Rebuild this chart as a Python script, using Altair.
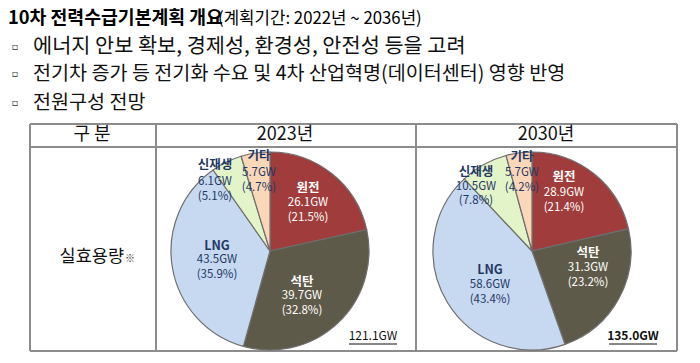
import altair as alt
import pandas as pd

# ---------------- data ----------------
categories = ["원전", "석탄", "LNG", "신재생", "기타"]
gw_2023 = [26.1, 39.7, 43.5, 6.1, 5.7]
pct_2023 = [21.5, 32.8, 35.9, 5.1, 4.7]
gw_2030 = [28.9, 31.3, 58.6, 10.5, 5.7]
pct_2030 = [21.4, 23.2, 43.4, 7.8, 4.2]
years = ["2023년", "2030년"]
totals = ["121.1GW", "135.0GW"]
title_bold = "10차 전력수급기본계획 개요"
title_rest = "(계획기간: 2022년 ~ 2036년)"
bullets = [
    "에너지 안보 확보, 경제성, 환경성, 안전성 등을 고려",
    "전기차 증가 등 전기화 수요 및 4차 산업혁명(데이터센터) 영향 반영",
    "전원구성 전망",
]
header_labels = ["구 분", "2023년", "2030년"]
row_label = "실효용량"
row_mark = "※"

# ---------------- styles / layout ----------------
FONT = "Noto Sans CJK KR"
OFF = 8  # page margin: reference pixel -> chart pixel
slice_colors = ["#A03D3C", "#5E5A49", "#C6D9F1", "#E3F4C8", "#FBD7B9"]
label_colors = ["#FFFFFF", "#FFFFFF", "#1F3864", "#1F3864", "#1F3864"]
LINE = "#8C8C8C"

pie_center = {"2023년": (270, 251), "2030년": (532, 251)}
pie_radius = 99

# label positions (reference px): x, name y, value y, pct y
label_pos = {
    ("2023년", "원전"): (308, 188, 203, 218),
    ("2023년", "석탄"): (302, 282, 296, 311),
    ("2023년", "LNG"): (217, 246, 260, 275),
    ("2023년", "신재생"): (215, 165, 182, 197),
    ("2023년", "기타"): (259, 156, 173, 188),
    ("2030년", "원전"): (564, 177, 193, 208),
    ("2030년", "석탄"): (588, 253, 268, 283),
    ("2030년", "LNG"): (490, 270, 285, 300),
    ("2030년", "신재생"): (476, 172, 187, 201),
    ("2030년", "기타"): (522, 157, 173, 188),
}
total_pos = {"2023년": (373, 336), "2030년": (633, 336)}
TABLE_BOTTOM = 351

# ---------------- tables ----------------
rows = []
for yr, gws, pcts in [("2023년", gw_2023, pct_2023), ("2030년", gw_2030, pct_2030)]:
    for i, (c, g, p) in enumerate(zip(categories, gws, pcts)):
        lx, ny, vy, py = label_pos[(yr, c)]
        rows.append({
            "year": yr, "cat": c, "gw": g, "ord": i,
            "val": f"{g}GW", "pct": f"({p}%)",
            "lx": lx - OFF, "ny": ny - OFF, "vy": vy - OFF, "py": py - OFF,
            "tc": label_colors[i],
        })
df = pd.DataFrame(rows)

color_scale = alt.Scale(domain=categories, range=slice_colors)

layers = []

# table grid (reference px)
table_lines = pd.DataFrame([
    {"x1": 30, "x2": 677, "y1": 124, "y2": 124},
    {"x1": 30, "x2": 677, "y1": 147, "y2": 147},
    {"x1": 30, "x2": 677, "y1": TABLE_BOTTOM, "y2": TABLE_BOTTOM},
    {"x1": 30, "x2": 30, "y1": 124, "y2": TABLE_BOTTOM},
    {"x1": 156, "x2": 156, "y1": 124, "y2": TABLE_BOTTOM},
    {"x1": 416, "x2": 416, "y1": 124, "y2": TABLE_BOTTOM},
    {"x1": 677, "x2": 677, "y1": 124, "y2": TABLE_BOTTOM},
])
for c in ["x1", "x2", "y1", "y2"]:
    table_lines[c] = table_lines[c] - OFF
layers.append(
    alt.Chart(table_lines).mark_rule(color=LINE, strokeWidth=2).encode(
        x=alt.X("x1:Q", scale=None), x2="x2:Q",
        y=alt.Y("y1:Q", scale=None), y2="y2:Q",
    )
)

pies = []
for yr in years:
    cx, cy = pie_center[yr]
    pies.append(
        alt.Chart(df).transform_filter(alt.datum.year == yr).mark_arc(
            radius=pie_radius, stroke="#6E6E6E", strokeWidth=1.2
        ).encode(
            theta=alt.Theta("gw:Q", stack=True),
            order=alt.Order("ord:Q"),
            color=alt.Color("cat:N", scale=color_scale, legend=None),
            x=alt.value(cx - OFF),
            y=alt.value(cy - OFF),
        )
    )
pie_layer = alt.layer(*pies).resolve_scale(theta="independent")
layers.append(pie_layer)

base_lbl = alt.Chart(df)
layers.append(base_lbl.mark_text(font=FONT, fontSize=12.5, fontWeight="bold", baseline="middle").encode(
    x=alt.X("lx:Q", scale=None), y=alt.Y("ny:Q", scale=None),
    text="cat:N", color=alt.Color("tc:N", scale=None),
))
layers.append(base_lbl.mark_text(font=FONT, fontSize=11.5, baseline="middle").encode(
    x=alt.X("lx:Q", scale=None), y=alt.Y("vy:Q", scale=None),
    text="val:N", color=alt.Color("tc:N", scale=None),
))
layers.append(base_lbl.mark_text(font=FONT, fontSize=11.5, baseline="middle").encode(
    x=alt.X("lx:Q", scale=None), y=alt.Y("py:Q", scale=None),
    text="pct:N", color=alt.Color("tc:N", scale=None),
))

# totals with underline
for i, yr in enumerate(years):
    tx, ty = total_pos[yr]
    layers.append(
        alt.Chart(pd.DataFrame({"t": [totals[i]]})).mark_text(
            font=FONT, fontSize=12, fontWeight=("normal" if i == 0 else "bold"),
            color="#111111", baseline="middle"
        ).encode(text="t:N", x=alt.value(tx - OFF), y=alt.value(ty - OFF))
    )
    layers.append(
        alt.Chart(pd.DataFrame({"t": [totals[i]]})).mark_rule(color="#111111", strokeWidth=1).encode(
            x=alt.value(tx - OFF - 24), x2=alt.value(tx - OFF + 24),
            y=alt.value(ty - OFF + 8),
        )
    )

# header texts
hdr_df = pd.DataFrame({"t": header_labels, "x": [92 - OFF, 285 - OFF, 546 - OFF], "y": [135 - OFF] * 3})
layers.append(
    alt.Chart(hdr_df).mark_text(font=FONT, fontSize=18, color="#111111", baseline="middle").encode(
        text="t:N", x=alt.X("x:Q", scale=None), y=alt.Y("y:Q", scale=None)
    )
)
layers.append(
    alt.Chart(pd.DataFrame({"t": [row_label]})).mark_text(
        font=FONT, fontSize=17.5, color="#111111", baseline="middle", align="right"
    ).encode(text="t:N", x=alt.value(124 - OFF), y=alt.value(257 - OFF))
)
layers.append(
    alt.Chart(pd.DataFrame({"t": [row_mark]})).mark_text(
        font=FONT, fontSize=10, color="#333333", baseline="middle", align="left"
    ).encode(text="t:N", x=alt.value(125 - OFF), y=alt.value(259 - OFF))
)

# title
layers.append(
    alt.Chart(pd.DataFrame({"t": [title_bold]})).mark_text(
        font=FONT, fontSize=18.3, fontWeight="bold", color="#000000", align="left", baseline="middle"
    ).encode(text="t:N", x=alt.value(8 - OFF), y=alt.value(19 - OFF))
)
layers.append(
    alt.Chart(pd.DataFrame({"t": [title_rest]})).mark_text(
        font=FONT, fontSize=16.8, color="#000000", align="left", baseline="middle"
    ).encode(text="t:N", x=alt.value(218 - OFF), y=alt.value(19 - OFF))
)

# bullets
bul_df = pd.DataFrame({"t": bullets, "y": [47 - OFF, 74 - OFF, 103 - OFF]})
layers.append(
    alt.Chart(bul_df).mark_text(font="DejaVu Sans", fontSize=10, color="#333333", baseline="middle", text="▫").encode(
        x=alt.value(15 - OFF), y=alt.Y("y:Q", scale=None)
    )
)
layers.append(
    alt.Chart(bul_df.iloc[[0]]).mark_text(font=FONT, fontSize=20.8, color="#111111", align="left", baseline="middle").encode(
        text="t:N", x=alt.value(33 - OFF), y=alt.Y("y:Q", scale=None)
    )
)
layers.append(
    alt.Chart(bul_df.iloc[1:]).mark_text(font=FONT, fontSize=19.6, color="#111111", align="left", baseline="middle").encode(
        text="t:N", x=alt.value(33 - OFF), y=alt.Y("y:Q", scale=None)
    )
)

chart = alt.layer(*layers).properties(
    width=684, height=347, padding=0, autosize=alt.AutoSizeParams(type="none")
).configure_view(stroke=None)

chart.save("out.html", embed_options={"renderer": "svg", "actions": False})
